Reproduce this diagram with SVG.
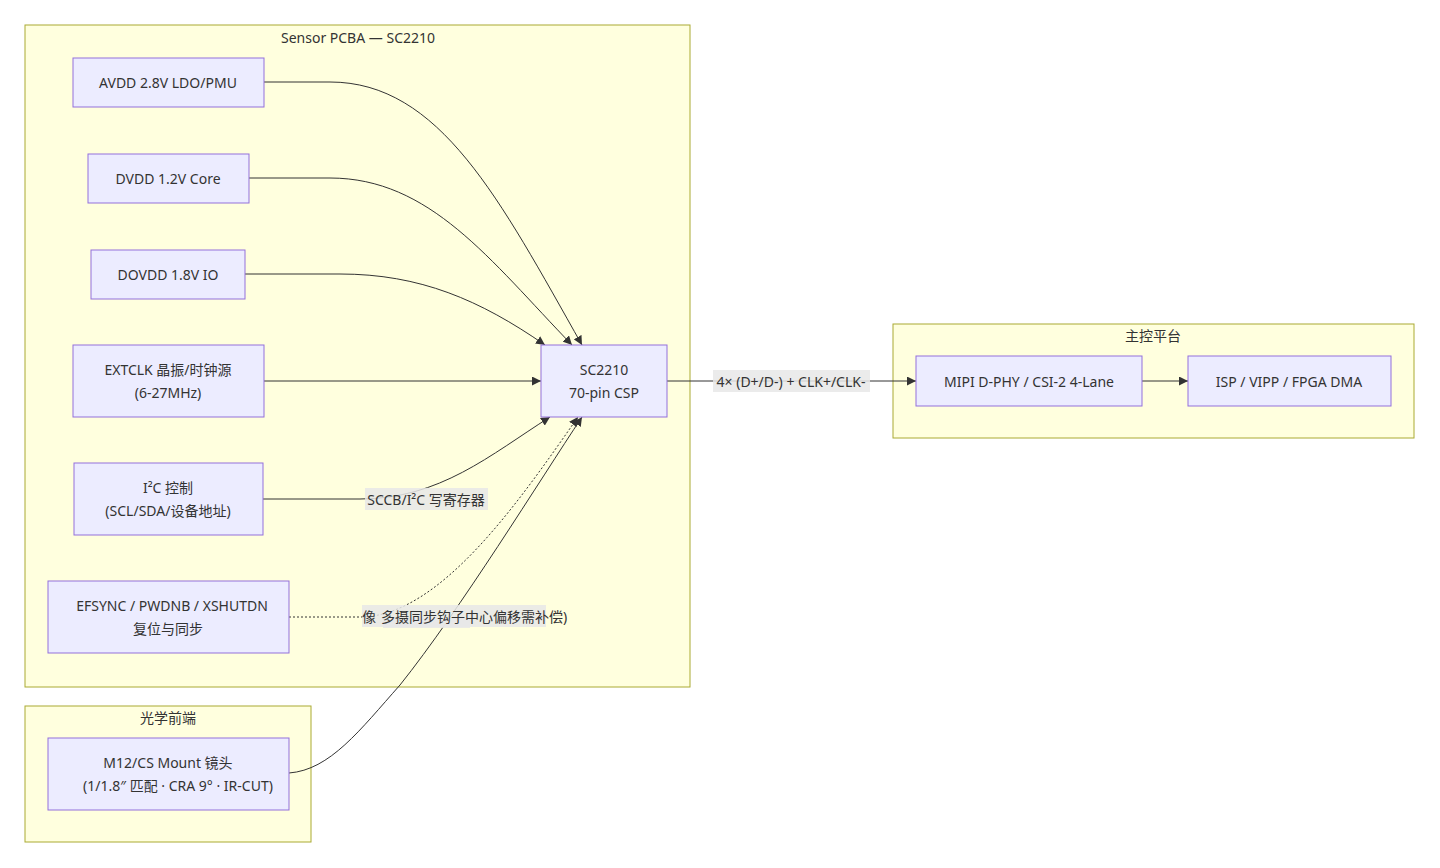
<svg xmlns="http://www.w3.org/2000/svg" width="1440" height="868" viewBox="0 0 1440 868">
<defs>
<marker id="arr" viewBox="0 0 10 10" refX="10" refY="5" markerWidth="9" markerHeight="9" markerUnits="userSpaceOnUse" orient="auto"><path d="M0,0 L10,5 L0,10 z" fill="#333"/></marker>
<style>
.cl{fill:#ffffde;stroke:#aaaa33;stroke-width:1}
.nd{fill:#ececff;stroke:#9370db;stroke-width:1}
.t{font-family:"Noto Sans","Noto Sans CJK SC",sans-serif;font-size:14px;fill:#333;text-anchor:middle;dominant-baseline:central}
.e{fill:none;stroke:#333;stroke-width:1;marker-end:url(#arr)}
.d{stroke-dasharray:2 2}
.lb{fill:#e8e8e8;opacity:0.85}
</style>
</defs>
<rect width="1440" height="868" fill="#ffffff"/>
<g id="cluster-sensor"><rect class="cl" x="25" y="25" width="665" height="662"/><text class="t" x="358" y="37">Sensor PCBA — SC2210</text></g>
<g id="cluster-optics"><rect class="cl" x="25" y="706" width="286" height="136"/><text class="t" x="168" y="717">光学前端</text></g>
<g id="cluster-host"><rect class="cl" x="893" y="324" width="521" height="114"/><text class="t" x="1153" y="335">主控平台</text></g>

<g id="connectors">
<path class="e" d="M264,82 L330,82 C440,82 500,200 582,345"/>
<path class="e" d="M249,178 L330,178 C430,178 490,260 572,345"/>
<path class="e" d="M245,274 L340,274 C420,274 480,300 545,345"/>
<path class="e" d="M264,381 L541,381"/>
<path class="e" d="M263,499 L360,499 C440,499 490,455 550,417"/>
<path class="e d" d="M289,617 L360,617 C440,617 520,500 578,417"/>
<path class="e" d="M289,773 C330,770 360,730 400,685 C460,610 540,480 582,417"/>
<path class="e" d="M667,381 L916,381"/>
<path class="e" d="M1142,381 L1188,381"/>
<g id="labels">
<rect class="lb" x="365" y="488" width="123" height="22"/><text class="t" x="426" y="499">SCCB/I²C 写寄存器</text>
<rect class="lb" x="362" y="605" width="184" height="22"/><rect class="lb" x="383" y="618" width="87" height="10"/>
<text class="t" x="369" y="616">像</text><text class="t" x="474" y="616">多摄同步钩子中心偏移需补偿)</text>
<rect class="lb" x="713" y="370" width="157" height="22"/><text class="t" x="791" y="381">4× (D+/D-) + CLK+/CLK-</text>
</g>
</g>

<g id="n-avdd"><rect class="nd" x="73" y="58" width="191" height="49"/><text class="t" x="168" y="82">AVDD 2.8V LDO/PMU</text></g>
<g id="n-dvdd"><rect class="nd" x="88" y="154" width="161" height="49"/><text class="t" x="168" y="178">DVDD 1.2V Core</text></g>
<g id="n-dovdd"><rect class="nd" x="91" y="250" width="154" height="49"/><text class="t" x="168" y="274">DOVDD 1.8V IO</text></g>
<g id="n-extclk"><rect class="nd" x="73" y="345" width="191" height="72"/><text class="t" x="168" y="369">EXTCLK 晶振/时钟源</text><text class="t" x="168" y="392">(6-27MHz)</text></g>
<g id="n-i2c"><rect class="nd" x="74" y="463" width="189" height="72"/><text class="t" x="168" y="487">I²C 控制</text><text class="t" x="168" y="510">(SCL/SDA/设备地址)</text></g>
<g id="n-efsync"><rect class="nd" x="48" y="581" width="241" height="72"/><text class="t" x="172" y="605">EFSYNC / PWDNB / XSHUTDN</text><text class="t" x="168" y="628">复位与同步</text></g>
<g id="n-sc2210"><rect class="nd" x="541" y="345" width="126" height="72"/><text class="t" x="604" y="369">SC2210</text><text class="t" x="604" y="392">70-pin CSP</text></g>
<g id="n-lens"><rect class="nd" x="48" y="738" width="241" height="72"/><text class="t" x="168" y="762">M12/CS Mount 镜头</text><text class="t" x="178" y="785">(1/1.8″ 匹配 · CRA 9° · IR-CUT)</text></g>
<g id="n-mipi"><rect class="nd" x="916" y="356" width="226" height="50"/><text class="t" x="1029" y="381">MIPI D-PHY / CSI-2 4-Lane</text></g>
<g id="n-isp"><rect class="nd" x="1188" y="356" width="203" height="50"/><text class="t" x="1289" y="381">ISP / VIPP / FPGA DMA</text></g>
</svg>
